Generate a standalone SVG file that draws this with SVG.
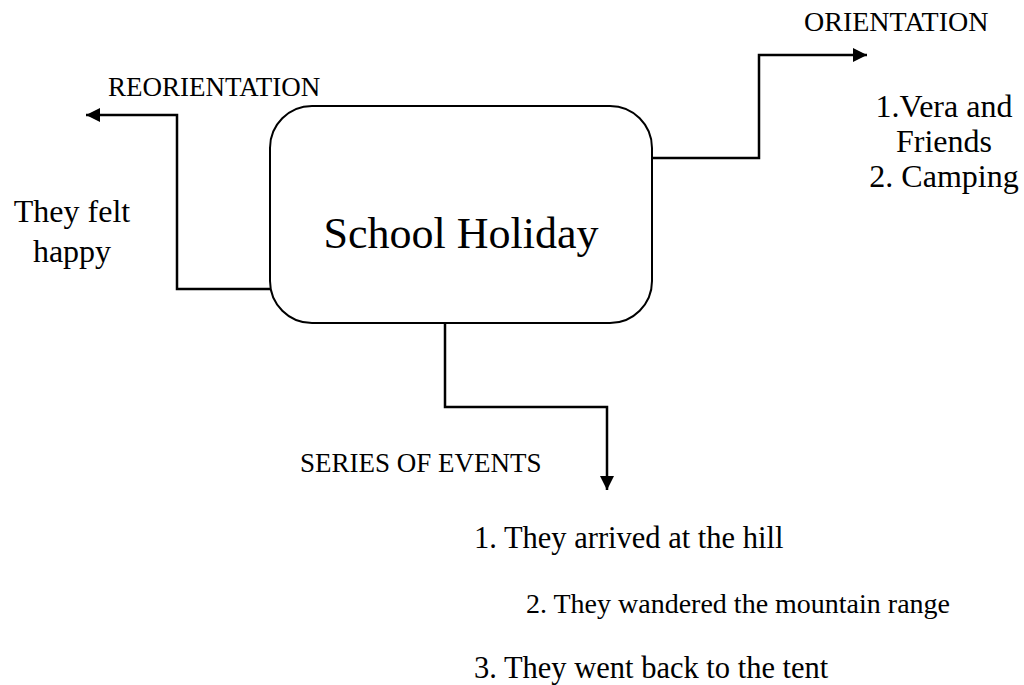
<svg xmlns="http://www.w3.org/2000/svg" width="1024" height="685" viewBox="0 0 1024 685">
<style>
  text { font-family: "Liberation Serif", "Times New Roman", serif; fill: #000; }
  .lbl { font-size: 27px; }
  .big { font-size: 44px; }
  .mid { font-size: 32px; }
  .list { font-size: 30.5px; }
  .conn { fill: none; stroke: #000; stroke-width: 2.5; }
  .box { fill: #fff; stroke: #000; stroke-width: 2; }
</style>
<defs>
  <marker id="arr" viewBox="0 0 10 10" refX="10" refY="5" markerWidth="5.6" markerHeight="5.6" markerUnits="strokeWidth" orient="auto">
    <path d="M0,0 L10,5 L0,10 z" fill="#000"/>
  </marker>
</defs>
<rect width="1024" height="685" fill="#fff"/>
<g id="connectors">
  <path class="conn" d="M270,289 H177 V115 H86" marker-end="url(#arr)"/>
  <path class="conn" d="M652,158 H759 V55 H867" marker-end="url(#arr)"/>
  <path class="conn" d="M445,323 V407 H607 V490" marker-end="url(#arr)"/>
</g>
<g id="school-holiday">
  <rect class="box" x="270" y="106" width="382" height="217" rx="42" ry="42"/>
  <text class="big" x="461" y="248" text-anchor="middle">School Holiday</text>
</g>
<g id="reorientation">
  <text class="lbl" x="108" y="96">REORIENTATION</text>
  <text class="mid" x="72" y="222" text-anchor="middle">They felt</text>
  <text class="mid" x="72" y="262" text-anchor="middle">happy</text>
</g>
<g id="orientation">
  <text style="font-size:28px" x="804" y="31">ORIENTATION</text>
  <text class="mid" x="944" y="117" text-anchor="middle">1.Vera and</text>
  <text class="mid" x="944" y="152" text-anchor="middle">Friends</text>
  <text class="mid" x="944" y="187" text-anchor="middle">2. Camping</text>
</g>
<g id="series-of-events">
  <text class="lbl" x="300" y="472">SERIES OF EVENTS</text>
  <text class="list" x="474" y="548">1. They arrived at the hill</text>
  <text style="font-size:28px" x="526" y="613">2. They wandered the mountain range</text>
  <text class="list" x="474" y="678">3. They went back to the tent</text>
</g>
</svg>
